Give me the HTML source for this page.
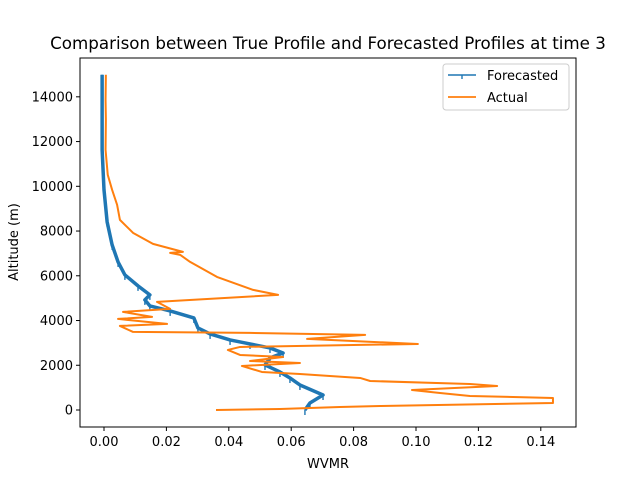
<!DOCTYPE html>
<html><head><meta charset="utf-8"><style>
body{margin:0;background:#fff;}
svg text{font-family:"DejaVu Sans","Liberation Sans",sans-serif;}
</style></head><body>
<svg id="chart" width="640" height="480" viewBox="0 0 640 480" xmlns="http://www.w3.org/2000/svg">
<rect width="640" height="480" fill="#fff"/>
<text x="328" y="49" font-size="16.7" text-anchor="middle" fill="#000">Comparison between True Profile and Forecasted Profiles at time 3</text>
<g id="plot"></g>
<rect x="80" y="58" width="496" height="369" fill="none" stroke="#000" stroke-width="1"/>
<text x="328" y="468" font-size="13" text-anchor="middle">WVMR</text>
<text x="18" y="242" font-size="13" text-anchor="middle" transform="rotate(-90 18 242)">Altitude (m)</text>
<g>
<rect x="443" y="64" width="126" height="46" rx="3" fill="#fff" stroke="#ccc"/>
<line x1="448" y1="75" x2="476" y2="75" stroke="#1f77b4" stroke-width="1.6"/>
<line x1="462" y1="75" x2="462" y2="79" stroke="#1f77b4" stroke-width="1.4"/>
<text x="487" y="80" font-size="13">Forecasted</text>
<line x1="448" y1="97" x2="476" y2="97" stroke="#ff7f0e" stroke-width="1.8"/>
<text x="487" y="102" font-size="13">Actual</text>
</g>
</svg>
<script>
const xTicks=[0,0.02,0.04,0.06,0.08,0.10,0.12,0.14];
const xTickLabels=["0.00","0.02","0.04","0.06","0.08","0.10","0.12","0.14"];
const yTicks=[0,2000,4000,6000,8000,10000,12000,14000];
const forecastX=[0.0644,0.066,0.0702,0.0628,0.0596,0.0564,0.0516,0.0532,0.0574,0.0532,0.0468,0.0404,0.034,0.0301,0.0288,0.0212,0.0147,0.0131,0.0147,0.0109,0.0067,0.0045,0.0026,0.001,0,-0.0006,-0.0006,-0.0006];
const forecastAlt=[0,313,671,1119,1432,1700,2013,2327,2550,2774,2953,3132,3400,3669,4116,4429,4653,4921,5145,5548,6040,6621,7382,8411,9843,11632,13422,14988];
const actualX=[0.0359,0.0564,0.0756,0.0885,0.1439,0.1439,0.1173,0.1077,0.0987,0.126,0.1173,0.0853,0.0821,0.0724,0.0628,0.0506,0.0442,0.0628,0.0468,0.0574,0.0436,0.0397,0.0436,0.1006,0.0651,0.0837,0.0468,0.0093,0.0051,0.0202,0.0045,0.0154,0.0061,0.0212,0.017,0.0558,0.0478,0.0362,0.0276,0.0244,0.0212,0.0253,0.0157,0.0093,0.0051,0.0042,0.0026,0.0012,0.0005,0.0006,0.0005,0.0006];
const actualAlt=[0,45,134,179,313,537,626,761,895,1074,1163,1297,1432,1521,1611,1700,1969,2103,2192,2371,2461,2684,2819,2953,3177,3356,3445,3490,3758,3848,4071,4161,4385,4519,4832,5145,5369,5950,6621,6935,7024,7069,7427,7919,8500,9172,9843,10514,11632,12975,13870,14988];
const NS='http://www.w3.org/2000/svg';
const sx=v=>104+v*3120;
function syF(v){return 410-v*(44.74/2000);}
const plot=document.getElementById('plot');
const svg=document.getElementById('chart');
function mk(tag,attrs,parent){const e=document.createElementNS(NS,tag);for(const k in attrs)e.setAttribute(k,attrs[k]);(parent||plot).appendChild(e);return e;}
xTicks.forEach((t,i)=>{
  const l=mk('line',{x1:sx(t),x2:sx(t),y1:427,y2:431,stroke:'#000'},svg);
  
  
  const tx=mk('text',{x:sx(t),y:446,'font-size':13,'text-anchor':'middle'},svg);
  tx.textContent=xTickLabels[i];
  
  
});
yTicks.forEach(t=>{
  const l=mk('line',{x1:76,x2:80,y1:syF(t),y2:syF(t),stroke:'#000'},svg);
  
  
  const tx=mk('text',{x:73,y:syF(t)+4.5,'font-size':13,'text-anchor':'end'},svg);
  tx.textContent=String(t);
  
  
});
const fp=mk('polyline',{points:forecastX.map((v,i)=>sx(v)+','+syF(forecastAlt[i])).join(' '),fill:'none',stroke:'#1f77b4','stroke-width':3.5,'stroke-linejoin':'round'});


forecastX.forEach((v,i)=>{
  const m=mk('line',{x1:sx(v),x2:sx(v),y1:syF(forecastAlt[i]),y2:syF(forecastAlt[i])+5,stroke:'#1f77b4','stroke-width':1.4});
  
  
});
const ap=mk('polyline',{points:actualX.map((v,i)=>sx(v)+','+syF(actualAlt[i])).join(' '),fill:'none',stroke:'#ff7f0e','stroke-width':2,'stroke-linejoin':'round'});


</script>
</body></html>
